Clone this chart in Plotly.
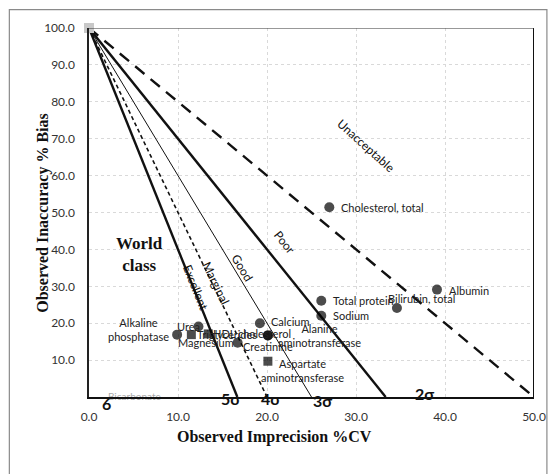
import plotly.graph_objects as go

# ---------------- data ----------------
analytes = ["Alkaline phosphatase", "Triglycerides", "Urea", "HDL cholesterol",
            "Magnesium", "Creatinine", "Alanine aminotransferase", "Calcium",
            "Aspartate aminotransferase", "Sodium", "Total protein",
            "Bilirubin, total", "Albumin", "Cholesterol, total"]
cv_pct = [9.9, 11.5, 12.3, 13.4, 16.7, 20.1, 20.1, 19.2, 20.1, 26.1, 26.1, 34.6, 39.1, 27.0]
bias_pct = [16.9, 16.9, 19.1, 17.1, 14.7, 16.7, 16.7, 20.0, 9.7, 22.0, 26.1, 24.1, 29.1, 51.4]
square_analytes = ["Triglycerides", "HDL cholesterol", "Aspartate aminotransferase"]

tea = 100.0
sigma_levels = [6, 5, 4, 3, 2]
sigma_labels = ["6", "5σ", "4σ", "3σ", "2σ"]
sigma_label_cv = [2.0, 15.9, 20.4, 26.2, 37.7]

zone_names = ["Excellent", "Marginal", "Good", "Poor", "Unacceptable"]
zone_cv = [12.0, 14.3, 17.2, 22.0, 31.1]
zone_bias = [29.7, 30.8, 35.1, 41.9, 68.1]
zone_angles = [68, 64, 59, 51, 42]

x_ticks = [0, 10, 20, 30, 40, 50]
y_ticks = [10, 20, 30, 40, 50, 60, 70, 80, 90, 100]

# ---------------- styles ----------------
line_styles = {
    6: dict(width=2.4, dash="solid"),
    5: dict(width=1.6, dash="4px,3px"),
    4: dict(width=1.0, dash="solid"),
    3: dict(width=2.4, dash="solid"),
    2: dict(width=2.4, dash="12px,8px"),
}
sigma_label_yshift = [-6, -1, -1, -3, 4]
label_style = {
    "Alkaline phosphatase": ("right", "middle", -6, 5, "Alkaline<br>phosphatase"),
    "Triglycerides": ("left", "middle", 4, 0, "Triglycerides"),
    "Urea": ("right", "middle", 4, 0, "Urea"),
    "HDL cholesterol": ("left", "middle", 3, 0, "HDL cholesterol"),
    "Magnesium": ("right", "middle", -2, 0, "Magnesium"),
    "Creatinine": ("center", "top", 0, -3, "Creatinine"),
    "Alanine aminotransferase": ("left", "middle", 8, 0, "Alanine<br>aminotransferase"),
    "Calcium": ("left", "middle", 9, 2, "Calcium"),
    "Aspartate aminotransferase": ("center", "middle", 35, -9, "Aspartate<br>aminotransferase"),
    "Sodium": ("left", "middle", 10, 0, "Sodium"),
    "Total protein": ("left", "middle", 10, 0, "Total protein"),
    "Bilirubin, total": ("center", "middle", 25, 10, "Bilirubin, total"),
    "Albumin": ("left", "middle", 10, -1, "Albumin"),
    "Cholesterol, total": ("left", "middle", 10, 0, "Cholesterol, total"),
}

SANS = "Lato, 'Open Sans', sans-serif"
SERIF = "'Liberation Serif', 'DejaVu Serif', serif"

fig = go.Figure()

# sigma lines from (0, TEa) to (TEa/sigma, 0)
for s in sigma_levels:
    fig.add_trace(go.Scatter(
        x=[0, tea / s], y=[tea, 0], mode="lines",
        line=dict(color="#111111", **line_styles[s]),
        hoverinfo="skip", showlegend=False, cliponaxis=False))

# origin marker
fig.add_trace(go.Scatter(x=[0], y=[tea], mode="markers",
                         marker=dict(symbol="square", size=10, color="#c8c8c8"),
                         showlegend=False, cliponaxis=False, hoverinfo="skip"))

# faint label partly hidden behind the axis
fig.add_trace(go.Scatter(x=[5.1], y=[0], mode="text", text=["Bicarbonate"],
                         textfont=dict(family=SANS, size=10, color="#aaaaaa"),
                         showlegend=False, cliponaxis=False, hoverinfo="skip"))

# analytes
symbols = ["square" if a in square_analytes else "circle" for a in analytes]
sizes = [9 if a in square_analytes else 10 for a in analytes]
fig.add_trace(go.Scatter(x=cv_pct, y=bias_pct, mode="markers",
                         marker=dict(symbol=symbols, size=sizes, color="#000000",
                                     line=dict(width=0)),
                         text=analytes, showlegend=False, cliponaxis=False))

annotations = []
for a, xv, yv in zip(analytes, cv_pct, bias_pct):
    xa, ya, xs, ys, txt = label_style[a]
    annotations.append(dict(x=xv, y=yv, xref="x", yref="y", text=txt, showarrow=False,
                            xanchor=xa, yanchor=ya, xshift=xs, yshift=ys, align="center",
                            font=dict(family=SANS, size=11, color="#222222")))

for t, xv, ys in zip(sigma_labels, sigma_label_cv, sigma_label_yshift):
    annotations.append(dict(x=xv, y=0, xref="x", yref="y", text=f"<b>{t}</b>",
                            showarrow=False, yshift=ys, xanchor="center", yanchor="middle",
                            font=dict(family=SANS, size=16, color="#111111")))

for t, xv, yv, ang in zip(zone_names, zone_cv, zone_bias, zone_angles):
    annotations.append(dict(x=xv, y=yv, xref="x", yref="y", text=t, showarrow=False,
                            textangle=ang, font=dict(family=SANS, size=12, color="#111111")))

annotations.append(dict(x=5.7, y=38.6, xref="x", yref="y", text="<b>World<br>class</b>",
                        showarrow=False, align="center",
                        font=dict(family=SERIF, size=17, color="#111111")))

annotations.append(dict(x=0.416, y=-0.108, xref="paper", yref="paper",
                        xanchor="center", yanchor="middle",
                        text="<b>Observed Imprecision %CV</b>", showarrow=False,
                        font=dict(family=SERIF, size=16, color="#111111")))
annotations.append(dict(x=-0.105, y=0.5, xref="paper", yref="paper",
                        xanchor="center", yanchor="middle",
                        text="<b>Observed Inaccuracy % Bias</b>", showarrow=False,
                        textangle=-90, font=dict(family=SERIF, size=16, color="#111111")))

shapes = [
    # outer frame
    dict(type="rect", xref="paper", yref="paper", x0=-0.179, x1=1.029, y0=-0.25, y1=1.05,
         line=dict(color="#8a8a8a", width=1.2), layer="below"),
    # right frame line
    dict(type="line", xref="x", yref="y", x0=50, x1=50, y0=0, y1=100,
         line=dict(color="#111111", width=2)),
    # top frame line
    dict(type="line", xref="x", yref="y", x0=0, x1=50, y0=100, y1=100,
         line=dict(color="#333333", width=1.2)),
]

fig.update_layout(
    width=550, height=466,
    margin=dict(l=81, r=20, t=19, b=77),
    paper_bgcolor="white", plot_bgcolor="white",
    showlegend=False,
    annotations=annotations, shapes=shapes,
    xaxis=dict(range=[0, 50], tickvals=x_ticks, tickformat=".1f",
               showgrid=True, gridcolor="#d9d9d9", griddash="dot", gridwidth=1,
               zeroline=False, showline=True, linecolor="#111111", linewidth=2,
               ticks="", ticklabelstandoff=8,
               tickfont=dict(family=SANS, size=12, color="#333333")),
    yaxis=dict(range=[0, 100], tickvals=y_ticks, tickformat=".1f",
               showgrid=True, gridcolor="#d9d9d9", griddash="dot", gridwidth=1,
               zeroline=False, showline=True, linecolor="#222222", linewidth=1.5,
               ticks="", ticklabelstandoff=10,
               tickfont=dict(family=SANS, size=12, color="#333333")),
)

fig.write_html("out.html")
